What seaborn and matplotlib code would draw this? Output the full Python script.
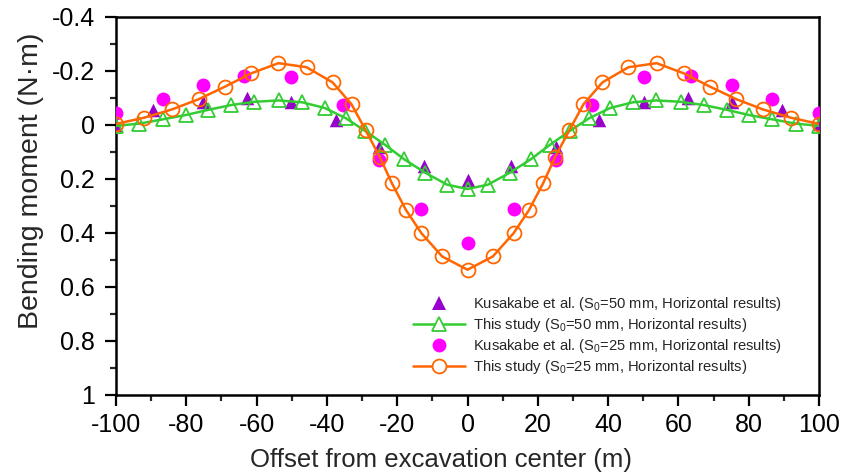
import matplotlib
matplotlib.use("Agg")
import matplotlib.pyplot as plt
from matplotlib.ticker import MultipleLocator
from matplotlib.lines import Line2D
import seaborn as sns
import pandas as pd

# ---------------- data ----------------
kus50_x = [-100, -89.5, -75.2, -62.8, -50.2, -37.3, -25.3, -12.3, 0,
           12.3, 25.3, 37.3, 50.2, 62.8, 75.2, 89.5, 100]
kus50_y = [0.000, -0.055, -0.086, -0.099, -0.086, -0.017, 0.083, 0.150, 0.204,
           0.150, 0.083, -0.017, -0.086, -0.099, -0.086, -0.055, -0.003]

kus25_x = [-100, -86.7, -75.2, -63.5, -50.3, -35.3, -25.3, -13.2, 0,
           13.2, 25.3, 35.3, 50.3, 63.5, 75.2, 86.7, 100]
kus25_y = [-0.046, -0.095, -0.148, -0.180, -0.179, -0.074, 0.130, 0.312, 0.437,
           0.312, 0.130, -0.074, -0.179, -0.180, -0.148, -0.095, -0.046]

study50_x = [-100, -93.4, -86.7, -80.1, -73.8, -67.2, -60.6, -53.7, -47.0, -40.6,
             -34.6, -29.1, -23.4, -18.0, -12.0, -5.8, 0, 5.8, 12.0, 18.0, 23.4,
             29.1, 34.6, 40.6, 47.0, 53.7, 60.6, 67.2, 73.8, 80.1, 86.7, 93.4, 100]
study50_y = [0.003, -0.005, -0.021, -0.037, -0.056, -0.074, -0.086, -0.091, -0.084, -0.063,
             -0.025, 0.022, 0.074, 0.127, 0.177, 0.221, 0.237, 0.221, 0.177, 0.127, 0.074,
             0.022, -0.025, -0.063, -0.084, -0.091, -0.086, -0.074, -0.056, -0.037, -0.021, -0.005, 0.003]

study25_x = [-100, -92.0, -84.0, -76.4, -69.0, -61.6, -53.8, -45.8, -38.4, -33.0,
             -29.0, -25.0, -21.5, -17.5, -13.1, -7.2, 0, 7.2, 13.1, 17.5, 21.5,
             25.0, 29.0, 33.0, 38.4, 45.8, 53.8, 61.6, 69.0, 76.4, 84.0, 92.0, 100]
study25_y = [-0.004, -0.027, -0.058, -0.096, -0.142, -0.191, -0.229, -0.214, -0.158, -0.077,
             0.019, 0.117, 0.216, 0.315, 0.401, 0.487, 0.536, 0.487, 0.401, 0.315, 0.216,
             0.117, 0.019, -0.077, -0.158, -0.214, -0.229, -0.191, -0.142, -0.096, -0.058, -0.027, -0.004]

xticks = [-100, -80, -60, -40, -20, 0, 20, 40, 60, 80, 100]
xticklabels = ["-100", "-80", "-60", "-40", "-20", "0", "20", "40", "60", "80", "100"]
yticks = [-0.4, -0.2, 0, 0.2, 0.4, 0.6, 0.8, 1.0]
yticklabels = ["-0.4", "-0.2", "0", "0.2", "0.4", "0.6", "0.8", "1"]

labels = ["Kusakabe et al. (S$_0$=50 mm, Horizontal results)",
          "This study (S$_0$=50 mm, Horizontal results)",
          "Kusakabe et al. (S$_0$=25 mm, Horizontal results)",
          "This study (S$_0$=25 mm, Horizontal results)"]
xlabel = "Offset from excavation center (m)"
ylabel = "Bending moment (N\u00b7m)"

# ---------------- style ----------------
sns.set_style("ticks")
plt.rcParams["font.family"] = ["Liberation Sans", "DejaVu Sans"]
plt.rcParams["mathtext.fontset"] = "custom"
plt.rcParams["mathtext.rm"] = "Liberation Sans"
plt.rcParams["mathtext.it"] = "Liberation Sans:italic"
plt.rcParams["mathtext.bf"] = "Liberation Sans:bold"

PURPLE = "#9900CC"
GREEN = "#33CC33"
MAGENTA = "#FF00FF"
ORANGE = "#FF6600"

fig = plt.figure(figsize=(8.56, 4.76), dpi=100)
ax = fig.add_axes([116 / 856, 1 - 395 / 476, 703 / 856, 378 / 476])

df_k50 = pd.DataFrame({"x": kus50_x, "y": kus50_y})
df_k25 = pd.DataFrame({"x": kus25_x, "y": kus25_y})
df_s50 = pd.DataFrame({"x": study50_x, "y": study50_y})
df_s25 = pd.DataFrame({"x": study25_x, "y": study25_y})

sns.scatterplot(data=df_k50, x="x", y="y", marker="^", s=95, color=PURPLE,
                edgecolor=PURPLE, linewidth=0, ax=ax, zorder=3, legend=False)
sns.scatterplot(data=df_k25, x="x", y="y", marker="o", s=100, color=MAGENTA,
                edgecolor=MAGENTA, linewidth=0, ax=ax, zorder=3, legend=False)
sns.lineplot(data=df_s50, x="x", y="y", sort=False, color=GREEN, lw=1.8,
             marker="^", markersize=9.5, markerfacecolor="none",
             markeredgecolor=GREEN, markeredgewidth=1.3, ax=ax, zorder=4,
             legend=False, errorbar=None)
sns.lineplot(data=df_s25, x="x", y="y", sort=False, color=ORANGE, lw=1.8,
             marker="o", markersize=10, markerfacecolor="none",
             markeredgecolor=ORANGE, markeredgewidth=1.3, ax=ax, zorder=5,
             legend=False, errorbar=None)

ax.set_xlim(-100, 100)
ax.set_ylim(1.0, -0.4)
ax.set_xticks(xticks)
ax.set_xticklabels(xticklabels)
ax.set_yticks(yticks)
ax.set_yticklabels(yticklabels)
ax.xaxis.set_minor_locator(MultipleLocator(10))
ax.yaxis.set_minor_locator(MultipleLocator(0.1))

for side in ["left", "bottom", "right", "top"]:
    ax.spines[side].set_visible(True)
    ax.spines[side].set_linewidth(1.8)
    ax.spines[side].set_color("black")

ax.tick_params(axis="both", which="major", direction="out", length=8, width=1.6,
               labelsize=18, colors="black", top=False, right=False)
ax.tick_params(axis="both", which="minor", direction="out", length=4.5, width=1.6,
               top=False, right=False)
ax.tick_params(axis="x", which="major", pad=5)
ax.tick_params(axis="y", which="major", pad=7)

ax.set_xlabel(xlabel, fontsize=18.5)
ax.set_ylabel(ylabel, fontsize=20.5)
ax.xaxis.set_label_coords((440.5 - 116) / 703, (395 - 448) / 378)
ax.yaxis.set_label_coords((44 - 116) / 703, (395 - 181) / 378)

handles = [
    Line2D([], [], ls="none", marker="^", markersize=10, color=PURPLE, markeredgewidth=0),
    Line2D([], [], color=GREEN, lw=1.8, marker="^", markersize=9.5,
           markerfacecolor="white", markeredgecolor=GREEN, markeredgewidth=1.3),
    Line2D([], [], ls="none", marker="o", markersize=10, color=MAGENTA, markeredgewidth=0),
    Line2D([], [], color=ORANGE, lw=1.8, marker="o", markersize=10,
           markerfacecolor="white", markeredgecolor=ORANGE, markeredgewidth=1.3),
]
fig.legend(handles, labels, loc="upper left",
           bbox_to_anchor=(413 / 856, 1 - 295 / 476), frameon=False,
           fontsize=10.6, handlelength=3.5, handletextpad=0.55,
           labelspacing=0.2, borderpad=0, borderaxespad=0)

fig.savefig("out.png", dpi=100)
